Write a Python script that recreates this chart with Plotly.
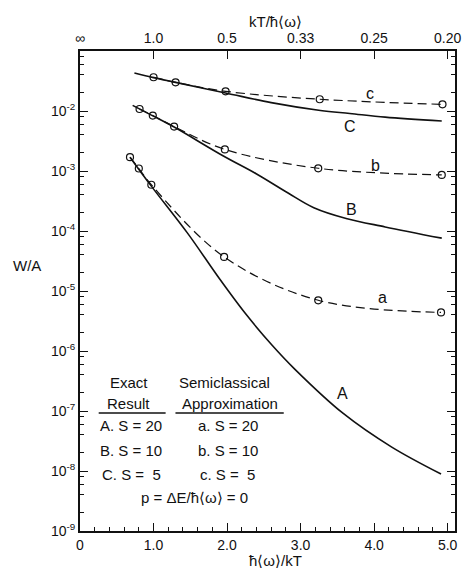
import plotly.graph_objects as go

# ---- data ----
# Exact results (solid lines)
A_x = [0.68, 0.97, 1.46, 1.90, 2.25, 2.61, 2.92, 3.58, 4.24, 4.91]
A_y = [1.70e-3, 5.6e-4, 9.3e-5, 1.58e-5, 4.2e-6, 1.26e-6, 5.0e-7, 9.1e-8, 2.5e-8, 8.9e-9]
B_x = [0.716, 0.99, 1.28, 1.95, 2.39, 2.83, 3.18, 3.62, 4.15, 4.92]
B_y = [1.24e-2, 8.3e-3, 5.4e-3, 1.78e-3, 9.1e-4, 4.3e-4, 2.45e-4, 1.62e-4, 1.17e-4, 7.6e-5]
C_x = [0.74, 1.0, 1.30, 1.98, 2.6, 3.27, 3.67, 4.15, 4.92]
C_y = [4.3e-2, 3.6e-2, 3.0e-2, 2.0e-2, 1.38e-2, 1.02e-2, 9.1e-3, 7.9e-3, 6.8e-3]
# Semiclassical approximation (dashed lines with open circles)
a_x = [0.68, 0.80, 0.97, 1.96, 3.24, 4.91]
a_y = [1.70e-3, 1.10e-3, 5.9e-4, 3.7e-5, 7.0e-6, 4.4e-6]
b_x = [0.81, 0.99, 1.28, 1.97, 3.24, 4.92]
b_y = [1.08e-2, 8.4e-3, 5.5e-3, 2.29e-3, 1.11e-3, 8.6e-4]
c_x = [1.0, 1.30, 1.98, 3.26, 4.93]
c_y = [3.65e-2, 3.0e-2, 2.13e-2, 1.57e-2, 1.29e-2]
# filled dot on the top axis
dot_x = [0.61]
dot_y = [1e-1]

x_ticks = [0, 1, 2, 3, 4, 5]
x_ticktext = ["0", "1.0", "2.0", "3.0", "4.0", "5.0"]
top_ticktext = ["∞", "1.0", "0.5", "0.33", "0.25", "0.20"]
y_exps = [-9, -8, -7, -6, -5, -4, -3, -2]
y_ticktext = ["10<sup>%d</sup>" % e for e in y_exps]

FONT = "Liberation Sans"
BLACK = "#111111"
XMAX = 5.1

fig = go.Figure()

for xs, ys in [(A_x, A_y), (B_x, B_y), (C_x, C_y)]:
    fig.add_trace(go.Scatter(x=xs, y=ys, mode="lines",
                             line=dict(color=BLACK, width=1.6, shape="spline"),
                             showlegend=False, hoverinfo="skip"))
for xs, ys in [(a_x, a_y), (b_x, b_y), (c_x, c_y)]:
    fig.add_trace(go.Scatter(x=xs, y=ys, mode="lines+markers",
                             line=dict(color=BLACK, width=1.2, dash="9px,5px", shape="spline"),
                             marker=dict(symbol="circle-open", size=7, color=BLACK,
                                         line=dict(width=1.2, color=BLACK)),
                             showlegend=False, hoverinfo="skip"))
fig.add_trace(go.Scatter(x=dot_x, y=dot_y, mode="markers", cliponaxis=False,
                         marker=dict(symbol="circle", size=6, color=BLACK),
                         showlegend=False, hoverinfo="skip"))

minor_y = [m * 10.0 ** e for e in range(-9, -1) for m in (2, 4, 6, 8)]
minor_y += [2e-2, 4e-2, 6e-2, 8e-2]

fig.update_layout(
    width=468, height=571,
    margin=dict(l=80, r=7, t=51, b=40),
    paper_bgcolor="white", plot_bgcolor="white",
    font=dict(family=FONT, size=14, color=BLACK),
    xaxis=dict(range=[0, XMAX], tickvals=x_ticks, ticktext=x_ticktext,
               ticks="inside", ticklen=8, tickwidth=1.2, tickcolor=BLACK,
               minor=dict(ticks="inside", ticklen=4, dtick=0.2, tickcolor=BLACK),
               showline=True, linewidth=2, linecolor=BLACK, mirror=False,
               showgrid=False, zeroline=False, tickfont=dict(size=14)),
    xaxis2=dict(range=[0, XMAX], overlaying="x", side="top",
                tickvals=x_ticks, ticktext=top_ticktext,
                ticks="inside", ticklen=8, tickwidth=1.2, tickcolor=BLACK,
                showline=True, linewidth=2, linecolor=BLACK,
                showgrid=False, zeroline=False, tickfont=dict(size=14)),
    yaxis=dict(type="log", range=[-9, -1], tickvals=[10.0 ** e for e in y_exps],
               ticktext=y_ticktext, ticks="inside", ticklen=8, tickwidth=1.2,
               tickcolor=BLACK,
               minor=dict(ticks="inside", ticklen=4, tickvals=minor_y, tickcolor=BLACK),
               showline=True, linewidth=2, linecolor=BLACK, mirror="ticks",
               showgrid=False, zeroline=False, tickfont=dict(size=14)),
)
# invisible trace so xaxis2 is drawn
fig.add_trace(go.Scatter(x=[0], y=[1e-9], xaxis="x2", mode="markers",
                         marker=dict(opacity=0), showlegend=False, hoverinfo="skip"))

PLOT_W = 468 - 80 - 7
PLOT_H = 571 - 51 - 40

def px2x(px):
    return (px - 80) / PLOT_W * XMAX

def py2y(py):
    return -1 - (py - 51) / (PLOT_H / 8.0)

def py2paper(py):
    return 1 - (py - 51) / PLOT_H

# axis titles
fig.add_annotation(text="W/A", xref="paper", yref="paper", x=-0.14, y=py2paper(265),
                   showarrow=False, font=dict(size=15), xanchor="center")
fig.add_annotation(text="ħ⟨ω⟩/kT", xref="paper", yref="paper", x=0.52, y=py2paper(560),
                   showarrow=False, font=dict(size=15), xanchor="center", yanchor="middle")
fig.add_annotation(text="kT/ħ⟨ω⟩", xref="paper", yref="paper", x=0.52, y=py2paper(21),
                   showarrow=False, font=dict(size=15), xanchor="center", yanchor="middle")

# curve labels
for txt, x, y in [("c", 3.95, -1.70), ("C", 3.67, -2.255), ("b", 4.02, -2.905),
                  ("B", 3.69, -3.64), ("a", 4.12, -5.11), ("A", 3.57, -6.71)]:
    fig.add_annotation(text=txt, x=x, y=y, showarrow=False, font=dict(size=16))

# legend block
for txt, px, py in [("Exact", 130, 382), ("Result", 129, 403),
                    ("Semiclassical", 227, 382), ("Approximation", 232, 403),
                    ("A. S = 20", 132, 425), ("a. S = 20", 230, 425),
                    ("B. S = 10", 132, 450), ("b. S = 10", 230, 450),
                    ("C. S =  5", 132, 474), ("c. S =  5", 230, 474),
                    ("p = ΔE/ħ⟨ω⟩ = 0", 196, 497)]:
    fig.add_annotation(text=txt.replace("  ", "&nbsp;&nbsp;"), x=px2x(px), y=py2y(py),
                       showarrow=False, font=dict(size=15))

for x0, x1 in [(99, 167), (177, 287)]:
    fig.add_shape(type="line", x0=px2x(x0), x1=px2x(x1), y0=10 ** py2y(413),
                  y1=10 ** py2y(413), line=dict(color=BLACK, width=1.3))

fig.write_html("out.html", config={"displayModeBar": False},
               post_script="document.body.style.margin='0';document.body.style.overflow='hidden';")
